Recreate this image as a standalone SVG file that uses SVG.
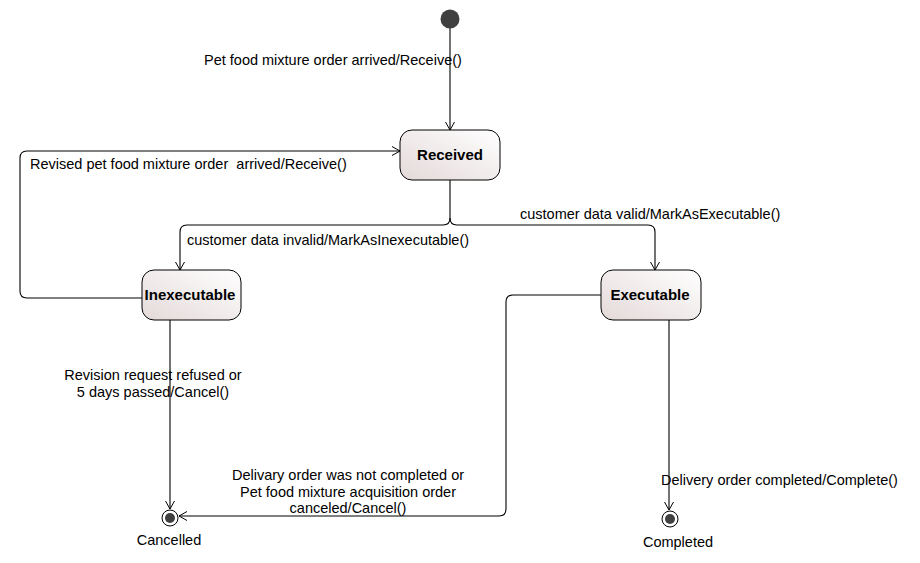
<svg xmlns="http://www.w3.org/2000/svg" width="920" height="563" viewBox="0 0 920 563">
<style>
text{font-family:"Liberation Sans",Arial,sans-serif;font-size:14.5px;fill:#000}
.n{font-weight:bold;font-size:15px}
.c{text-anchor:middle}
.st{stroke:#000;stroke-width:1;fill:url(#g)}
.e{fill:none;stroke:#000;stroke-width:1.1}
</style>
<defs>
<linearGradient id="g" x1="0" y1="1" x2="1" y2="0">
<stop offset="0" stop-color="#e4d9d9"/>
<stop offset="1" stop-color="#ffffff"/>
</linearGradient>
<marker id="a" markerWidth="12" markerHeight="12" refX="10" refY="6" orient="auto" markerUnits="userSpaceOnUse">
<path d="M2,1.5 L10,6 L2,10.5" fill="none" stroke="#000" stroke-width="1"/>
</marker>
</defs>
<g id="connectors">
<path class="e" d="M450,28 V130" marker-end="url(#a)"/>
<path class="e" d="M450,180 V218 Q450,225 443,225 H187 Q180,225 180,232 V270" marker-end="url(#a)"/>
<path class="e" d="M450,218 Q450,225 457,225 H648 Q655,225 655,232 V270" marker-end="url(#a)"/>
<path class="e" d="M142,298 H27 Q20,298 20,291 V158 Q20,151 27,151 H400" marker-end="url(#a)"/>
<path class="e" d="M170,320 V509" marker-end="url(#a)"/>
<path class="e" d="M601,295 H513 Q506,295 506,302 V509 Q506,516 499,516 H179" marker-end="url(#a)"/>
<path class="e" d="M669,320 V510" marker-end="url(#a)"/>
</g>
<g id="initial"><circle cx="450" cy="19" r="9.5" fill="#404040"/></g>
<g id="received"><rect class="st" x="400" y="130" width="100" height="50" rx="12"/><text class="n c" x="450" y="160">Received</text></g>
<g id="inexecutable"><rect class="st" x="142" y="270" width="99" height="50" rx="12"/><text class="n c" x="190" y="300">Inexecutable</text></g>
<g id="executable"><rect class="st" x="601" y="270" width="100" height="50" rx="12"/><text class="n c" x="650" y="300">Executable</text></g>
<g id="cancelled"><circle cx="170" cy="518" r="8" fill="#fff" stroke="#000"/><circle cx="170" cy="518" r="5" fill="#404040"/><text class="c" x="169" y="545">Cancelled</text></g>
<g id="completed"><circle cx="670" cy="519" r="8" fill="#fff" stroke="#000"/><circle cx="670" cy="519" r="5" fill="#404040"/><text class="c" x="678" y="547">Completed</text></g>
<g id="labels">
<text x="204" y="65">Pet food mixture order arrived/Receive()</text>
<text x="30" y="169" xml:space="preserve">Revised pet food mixture order  arrived/Receive()</text>
<text x="187" y="245">customer data invalid/MarkAsInexecutable()</text>
<text x="520" y="219">customer data valid/MarkAsExecutable()</text>
<text class="c" x="153" y="380">Revision request refused or</text>
<text class="c" x="153" y="397">5 days passed/Cancel()</text>
<text class="c" x="348" y="480">Delivary order was not completed or</text>
<text class="c" x="348" y="497">Pet food mixture acquisition order</text>
<text class="c" x="348" y="513">canceled/Cancel()</text>
<text x="661" y="485">Delivery order completed/Complete()</text>
</g>
</svg>
